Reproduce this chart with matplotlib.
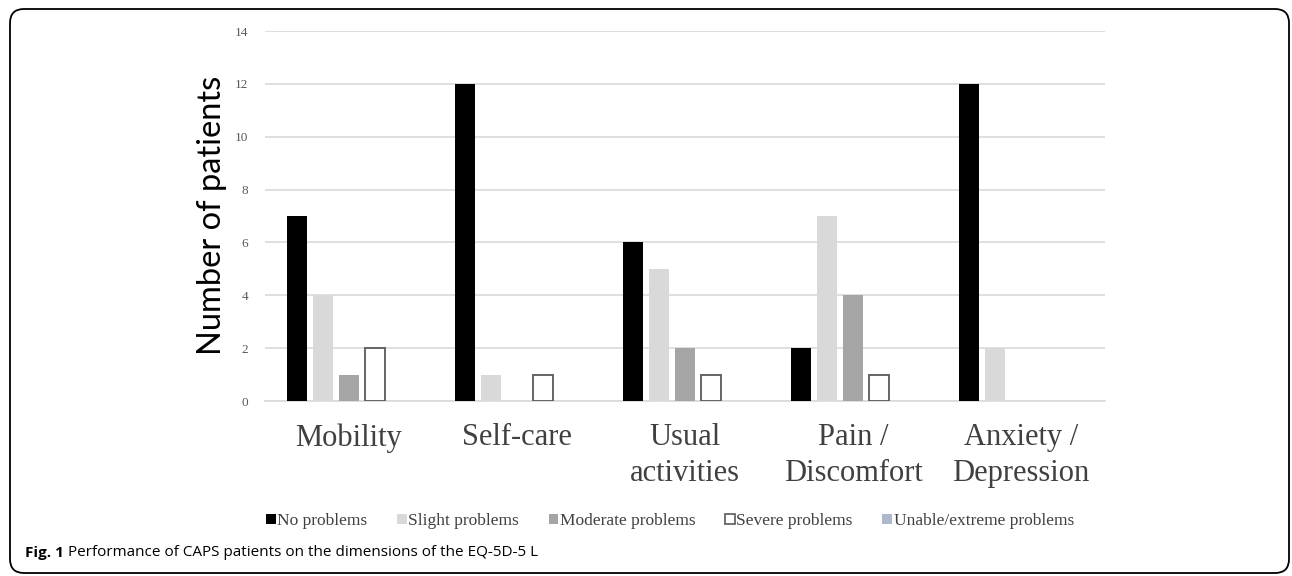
import matplotlib
matplotlib.use("Agg")
import matplotlib.pyplot as plt
import matplotlib.patches as mpatches
from matplotlib.transforms import IdentityTransform
import numpy as np

categories = ["Mobility", "Self-care", "Usual\nactivities", "Pain /\nDiscomfort", "Anxiety /\nDepression"]
series_names = ["No problems", "Slight problems", "Moderate problems", "Severe problems", "Unable/extreme problems"]
no_problems = [7, 12, 6, 2, 12]
slight_problems = [4, 1, 5, 7, 2]
moderate_problems = [1, 0, 2, 4, 0]
severe_problems = [2, 1, 1, 1, 0]
unable_problems = [0, 0, 0, 0, 0]
yticks = [0, 2, 4, 6, 8, 10, 12, 14]

series = [no_problems, slight_problems, moderate_problems, severe_problems, unable_problems]
faces = ["#000000", "#d9d9d9", "#a5a5a5", "#ffffff", "#adb9ca"]
edges = ["#000000", "#d9d9d9", "#a5a5a5", "#595959", "#adb9ca"]

W, H = 1292, 576
fig = plt.figure(figsize=(W / 100, H / 100), dpi=100)
ax = fig.add_axes([265 / W, 1 - 401 / H, 840 / W, 370 / H])

x = np.arange(len(categories))
step = 0.155
width = 0.122
for i, vals in enumerate(series):
    lws = [(1.3 if (i == 3 and v > 0) else 0) for v in vals]
    ax.bar(x + (i - 2) * step, vals, width=width, color=faces[i], edgecolor=edges[i],
           linewidth=lws, label=series_names[i], zorder=3)

ax.set_xlim(-0.5, len(categories) - 0.5)
ax.set_ylim(0, 14)
ax.set_yticks(yticks)
ax.set_yticklabels([str(t) for t in yticks], family="Liberation Serif", fontsize=9.5, color="#595959")
ax.set_xticks(x)
ax.set_xticklabels(categories, family="Liberation Serif", fontsize=22, color="#404040", linespacing=1.3)
ax.tick_params(axis="both", length=0)
ax.tick_params(axis="y", pad=12)
ax.tick_params(axis="x", pad=16)
ax.grid(axis="y", color="#d9d9d9", linewidth=1.2, zorder=0)
for s in ["top", "right", "left"]:
    ax.spines[s].set_visible(False)
ax.spines["bottom"].set_color("#d9d9d9")
ax.spines["bottom"].set_linewidth(1.2)

fig.text(212 / W, 1 - 215 / H, "Number of patients", rotation=90, ha="center", va="center",
         family="Lato", fontweight="normal", fontsize=23.5, color="#000000")

handles = [mpatches.Patch(facecolor=faces[i], edgecolor=edges[i], linewidth=1.2 if i == 3 else 0)
           for i in range(5)]
fig.legend(handles, series_names, loc="center", bbox_to_anchor=(670 / W, 1 - 521 / H), ncol=5,
           frameon=False, prop={"family": "Liberation Serif", "size": 12.5},
           handlelength=0.55, handleheight=0.55, handletextpad=0.1, columnspacing=1.7,
           labelcolor="#404040")

fig.text(25 / W, 1 - 553 / H, "Fig. 1", family="Open Sans", fontweight="bold", fontsize=11,
         va="center", ha="left")
fig.text(68 / W, 1 - 553 / H, "Performance of CAPS patients on the dimensions of the EQ-5D-5 L",
         family="Open Sans", fontsize=11, va="center", ha="left")

frame = mpatches.FancyBboxPatch((10, 3), 1279, 564, boxstyle="round,pad=0,rounding_size=14",
                                transform=IdentityTransform(), fill=False, edgecolor="#000000",
                                linewidth=1.3)
fig.patches.append(frame)

fig.savefig("out.png", dpi=100)
